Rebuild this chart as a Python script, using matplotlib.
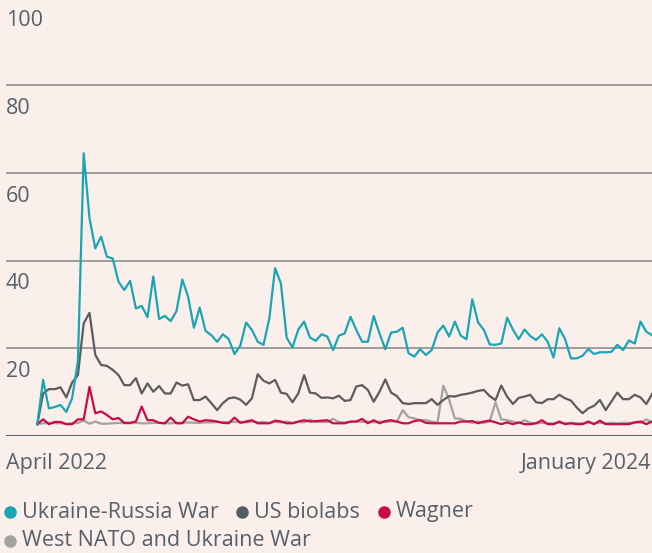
import matplotlib
matplotlib.use("Agg")
import matplotlib.pyplot as plt
import matplotlib.transforms as mtransforms
from matplotlib.lines import Line2D
import numpy as np

plt.rcParams['font.family'] = ['Open Sans', 'DejaVu Sans']

# weekly share of posts, April 2022 .. early 2024
ukraine_russia = [2.7, 12.8, 6.3, 6.6, 7.1, 5.5, 8.6, 17.0, 64.5, 49.7,
                  42.8, 45.5, 40.9, 40.5, 35.2, 33.3, 35.4, 29.1, 29.7, 27.1,
                  36.4, 26.7, 27.4, 26.2, 28.5, 35.7, 31.8, 24.7, 29.3, 24.0,
                  23.0, 21.5, 23.2, 22.1, 18.7, 20.6, 25.9, 24.2, 21.5, 20.8,
                  26.8, 38.3, 34.8, 22.4, 20.2, 24.3, 26.1, 22.5, 21.7, 23.2,
                  22.7, 19.6, 22.9, 23.4, 27.2, 24.2, 21.5, 21.5, 27.4, 23.4,
                  19.8, 23.6, 23.8, 24.7, 18.9, 18.1, 19.8, 18.5, 19.6, 23.6,
                  25.2, 22.7, 26.1, 22.9, 22.1, 31.2, 25.9, 24.2, 20.9, 20.8,
                  21.1, 27.0, 24.3, 22.1, 24.3, 22.8, 21.9, 23.2, 21.5, 17.9,
                  24.6, 22.1, 17.7, 17.7, 18.3, 19.8, 18.7, 19.1, 19.1, 19.2,
                  20.8, 19.6, 21.8, 21.1, 26.1, 23.8, 23.0]
us_biolabs = [2.7, 9.7, 10.7, 10.7, 11.1, 8.8, 12.2, 13.9, 25.7, 28.1,
              18.5, 16.2, 16.0, 15.1, 13.9, 11.6, 11.6, 13.2, 9.7, 12.0,
              10.1, 11.4, 9.7, 9.7, 12.2, 11.5, 11.8, 8.2, 8.2, 9.0,
              7.5, 5.9, 7.5, 8.6, 8.8, 8.3, 7.1, 8.6, 14.1, 12.6,
              12.0, 12.8, 9.9, 9.6, 7.7, 9.7, 13.9, 9.9, 9.7, 8.7,
              8.8, 8.6, 9.2, 8.0, 8.2, 11.3, 11.6, 10.5, 7.8, 10.1,
              12.9, 9.9, 9.1, 7.5, 7.3, 7.5, 7.5, 7.5, 8.4, 7.1,
              8.2, 9.1, 9.0, 9.4, 9.6, 9.9, 10.3, 10.5, 9.1, 8.2,
              11.5, 9.0, 7.3, 8.7, 9.0, 9.4, 7.7, 7.5, 8.4, 8.4,
              9.4, 8.6, 8.1, 6.5, 5.2, 6.3, 6.9, 8.2, 5.9, 7.9,
              9.9, 8.4, 8.4, 9.4, 8.8, 7.3, 9.6]
wagner = [2.7, 3.8, 2.7, 3.2, 3.2, 2.7, 2.7, 3.8, 3.8, 11.2,
          5.2, 5.6, 4.8, 3.8, 4.1, 3.0, 3.0, 3.3, 6.7, 3.6,
          3.6, 3.0, 2.9, 4.2, 2.9, 2.9, 4.4, 3.8, 3.3, 3.6,
          3.5, 3.3, 3.0, 2.9, 4.2, 3.0, 3.3, 3.6, 2.9, 2.9,
          2.9, 3.5, 3.3, 2.9, 2.9, 3.3, 3.6, 3.3, 3.4, 3.5,
          3.6, 2.9, 2.9, 2.9, 3.3, 3.3, 3.9, 2.9, 3.6, 2.9,
          3.4, 3.6, 3.3, 2.9, 2.9, 3.4, 3.6, 3.0, 2.9, 2.9,
          2.9, 2.9, 2.9, 3.3, 3.3, 3.4, 2.9, 3.3, 3.5, 3.1,
          2.7, 3.1, 2.7, 3.1, 2.7, 2.7, 2.9, 3.6, 2.7, 2.7,
          3.3, 2.7, 2.9, 2.7, 2.7, 3.3, 2.7, 3.5, 2.7, 2.7,
          2.7, 2.7, 2.7, 3.1, 3.3, 2.7, 3.3]
west_nato = [2.7, 2.9, 3.0, 2.9, 2.9, 2.8, 2.9, 3.0, 3.5, 2.8,
             3.3, 2.8, 2.8, 2.9, 3.0, 2.9, 2.9, 3.0, 2.9, 2.9,
             3.0, 3.0, 2.9, 2.9, 3.0, 3.0, 3.1, 3.0, 3.0, 3.1,
             3.1, 3.2, 3.1, 3.2, 3.2, 3.2, 3.1, 3.3, 3.1, 3.2,
             3.0, 3.2, 3.1, 3.3, 3.0, 3.2, 3.1, 3.7, 3.2, 3.2,
             3.2, 3.9, 3.2, 3.1, 3.2, 3.3, 3.2, 3.3, 3.1, 3.3,
             3.2, 3.3, 3.3, 5.9, 4.3, 4.0, 3.6, 3.6, 3.3, 3.0,
             11.5, 8.3, 4.0, 3.9, 3.3, 3.0, 3.3, 3.0, 3.3, 7.7,
             3.8, 3.6, 3.3, 2.9, 3.6, 3.0, 2.9, 3.0, 2.9, 2.9,
             3.0, 2.9, 3.0, 2.9, 2.9, 3.0, 2.9, 3.0, 2.9, 3.0,
             2.9, 3.0, 3.0, 3.1, 3.0, 3.8, 3.1]

series_names = ['Ukraine-Russia War', 'US biolabs', 'Wagner', 'West NATO and Ukraine War']
y_ticks = [0, 20, 40, 60, 80, 100]
x_labels = ['April 2022', 'January 2024']

bg = '#fbefec'
text_col = '#56606b'
c_teal = '#1aa5b5'
c_dark = '#5c5c5f'
c_red = '#cc0a4b'
c_light = '#a3a3a3'

W, H = 652, 553
fig = plt.figure(figsize=(W / 100, H / 100), dpi=100, facecolor=bg)
ax = fig.add_axes([6 / W, (H - 436) / H, 646 / W, 436 / H])
ax.set_facecolor(bg)

x = np.arange(len(ukraine_russia))
step = 5.8
ax.set_xlim(-(37.3 - 6) / step, (652 - 37.3) / step)
ax.set_ylim(0, 436 / 4.383)

for v in y_ticks[1:]:
    ax.axhline(v, color='#8e8e8e', lw=1.2, zorder=1)
ax.axhline(0, color='#5a6470', lw=1.5, zorder=1)

ax.plot(x, west_nato, color=c_light, lw=1.6, zorder=2)
ax.plot(x, us_biolabs, color=c_dark, lw=1.6, zorder=3)
ax.plot(x, wagner, color=c_red, lw=1.6, zorder=4)
ax.plot(x, ukraine_russia, color=c_teal, lw=1.6, zorder=5)

for s in ax.spines.values():
    s.set_visible(False)
ax.set_xticks([])
ax.set_yticks([])

# value labels hang under their gridlines
trans = mtransforms.blended_transform_factory(fig.transFigure, ax.transData)
trans = mtransforms.offset_copy(trans, fig=fig, y=-23, units='dots')
for v in y_ticks[1:]:
    ax.text(6 / W, v, str(v), transform=trans, ha='left', va='center',
            fontsize=15.5, color=text_col, clip_on=False)

fig.text(6 / W, (H - 463) / H, x_labels[0], ha='left', va='center',
         fontsize=15.5, color=text_col)
fig.text(651 / W, (H - 463) / H, x_labels[1], ha='right', va='center',
         fontsize=15.5, color=text_col)

# legend
legend_items = [(series_names[0], c_teal, 10, 512),
                (series_names[1], '#515d67', 242, 512),
                (series_names[2], c_red, 384, 512),
                (series_names[3], c_light, 10, 541)]
for name, col, px, py in legend_items:
    fig.add_artist(Line2D([px / W], [(H - py) / H], marker='o', markersize=8,
                          color=col, linestyle='none', transform=fig.transFigure))
    fig.text((px + 12) / W, (H - py) / H, name, ha='left', va='center',
             fontsize=15.5, color=text_col)

fig.savefig('out.png', dpi=100, facecolor=bg)
